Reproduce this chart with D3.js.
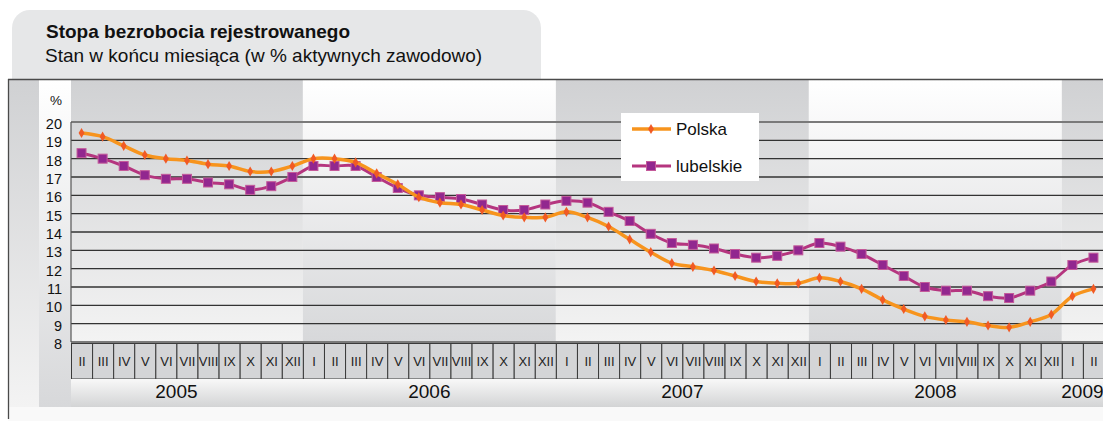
<!DOCTYPE html>
<html><head><meta charset="utf-8">
<script src="https://cdn.jsdelivr.net/npm/d3@7"></script>
<style>
html,body{margin:0;padding:0;background:#ffffff;}
svg{display:block;font-family:"Liberation Sans",Arial,sans-serif;}
</style></head>
<body>
<svg id="c" width="1103" height="421"></svg>
<script>
// ---- data ----
const titleText = "Stopa bezrobocia rejestrowanego";
const subtitleText = "Stan w końcu miesiąca (w % aktywnych zawodowo)";
const unitLabel = "%";
const yearLabels = ["2005","2006","2007","2008","2009"];
const monthLabels = [
  "II","III","IV","V","VI","VII","VIII","IX","X","XI","XII",
  "I","II","III","IV","V","VI","VII","VIII","IX","X","XI","XII",
  "I","II","III","IV","V","VI","VII","VIII","IX","X","XI","XII",
  "I","II","III","IV","V","VI","VII","VIII","IX","X","XI","XII",
  "I","II"];
const polska = [
  19.4,19.2,18.7,18.2,18.0,17.9,17.7,17.6,17.3,17.3,17.6,
  18.0,18.0,17.8,17.2,16.6,15.9,15.6,15.5,15.2,14.9,14.8,14.8,
  15.1,14.8,14.3,13.6,12.9,12.3,12.1,11.9,11.6,11.3,11.2,11.2,
  11.5,11.3,10.9,10.3,9.8,9.4,9.2,9.1,8.9,8.8,9.1,9.5,
  10.5,10.9];
const lubelskie = [
  18.3,18.0,17.6,17.1,16.9,16.9,16.7,16.6,16.3,16.5,17.0,
  17.6,17.6,17.6,17.0,16.4,16.0,15.9,15.8,15.5,15.2,15.2,15.5,
  15.7,15.6,15.1,14.6,13.9,13.4,13.3,13.1,12.8,12.6,12.7,13.0,
  13.4,13.2,12.8,12.2,11.6,11.0,10.8,10.8,10.5,10.4,10.8,11.3,
  12.2,12.6];
const yTicks = [8,9,10,11,12,13,14,15,16,17,18,19,20];
const seriesNames = ["Polska","lubelskie"];

// ---- layout ----
const svg = d3.select("#c");
const W = 1103, H = 421;
const plotL = 71, plotR = 1104, plotT = 122, plotB = 342;
const frameT = 79, frameL = 8;
const monthT = 343.5, monthB = 379, yearB = 407;

const idx = d3.range(monthLabels.length);
const x = d3.scaleBand().domain(idx).range([plotL, plotR]).padding(0);
const bw = x.bandwidth();
const y = d3.scaleLinear().domain([8,20]).range([plotB, plotT]);
const yearOf = i => 2005 + Math.floor((i + 1) / 12);

const defs = svg.append("defs");
function grad(id, c1, c2){
  const g = defs.append("linearGradient").attr("id", id).attr("x1",0).attr("y1",0).attr("x2",0).attr("y2",1);
  g.append("stop").attr("offset","0%").attr("stop-color",c1);
  g.append("stop").attr("offset","100%").attr("stop-color",c2);
}
grad("darkTop", "#d0d1d3", "#f3f3f3");
grad("lightTop", "#ffffff", "#d7d8da");
grad("rowGrad", "#f8f8f8", "#d3d4d5");

// title box
svg.append("rect").attr("x",12).attr("y",10).attr("width",529).attr("height",100)
  .attr("rx",18).attr("fill","#e6e7e8");
svg.append("text").attr("x",46).attr("y",38).attr("font-size",19).attr("font-weight","bold")
  .attr("fill","#111").text(titleText);
svg.append("text").attr("x",45).attr("y",62).attr("font-size",19)
  .attr("fill","#111").text(subtitleText);

// frame background
svg.append("rect").attr("x",frameL).attr("y",frameT).attr("width",W-frameL).attr("height",H-frameT).attr("fill","#f9f9f9");
// left columns
svg.append("rect").attr("x",frameL).attr("y",frameT).attr("width",39-frameL).attr("height",yearB-frameT).attr("fill","url(#darkTop)");
svg.append("rect").attr("x",39).attr("y",frameT).attr("width",plotL-39).attr("height",yearB-frameT).attr("fill","url(#lightTop)");

// year bands
const bandData = yearLabels.map((yl, k) => {
  const ids = idx.filter(i => yearOf(i) === +yl);
  const x0 = x(ids[0]), x1 = x(ids[ids.length-1]) + bw;
  return {yl, k, x0, x1, ids};
});
svg.append("g").selectAll("rect").data(bandData).join("rect")
  .attr("x", d => d.x0).attr("y", frameT).attr("width", d => d.x1 - d.x0).attr("height", plotB - frameT)
  .attr("fill", d => d.k % 2 === 0 ? "url(#darkTop)" : "url(#lightTop)");

// gridlines
svg.append("g").selectAll("line").data(yTicks).join("line")
  .attr("x1", plotL).attr("x2", W).attr("y1", d => y(d)).attr("y2", d => y(d))
  .attr("stroke", d => (d === 20 || d === 8) ? "#7a7a7a" : "#333")
  .attr("stroke-width", d => (d === 20 || d === 8) ? 2 : 1.4);
svg.append("line").attr("x1",plotL).attr("x2",plotL).attr("y1",y(20)).attr("y2",y(8))
  .attr("stroke","#555").attr("stroke-width",1.2);

// y axis labels
const yAxis = d3.axisLeft(y).tickValues(yTicks).tickSize(0).tickPadding(9).tickFormat(d3.format("d"));
const ya = svg.append("g").attr("transform",`translate(${plotL},0)`).call(yAxis);
ya.select(".domain").remove();
ya.selectAll("text").attr("font-size",14.5).attr("fill","#111").attr("font-family","Liberation Sans, Arial, sans-serif").attr("dy","0.45em");
svg.append("text").attr("x",56).attr("y",105).attr("text-anchor","middle").attr("font-size",13.5).attr("fill","#111").text(unitLabel);

// month row
const mg = svg.append("g");
mg.selectAll("rect").data(idx).join("rect")
  .attr("x", i => x(i) + 0.5).attr("y", monthT).attr("width", bw).attr("height", monthB - monthT)
  .attr("fill", "#d4d5d7").attr("stroke", "#3a3a3a").attr("stroke-width", 1);
mg.selectAll("text").data(idx).join("text")
  .attr("x", i => x(i) + bw/2 + 0.5).attr("y", (monthT + monthB)/2 + 5)
  .attr("text-anchor","middle").attr("font-size",13).attr("fill","#222")
  .text(i => monthLabels[i]);

// year row
svg.append("rect").attr("x",plotL).attr("y",monthB).attr("width",W-plotL).attr("height",yearB-monthB).attr("fill","url(#rowGrad)");
svg.append("g").selectAll("text").data(bandData).join("text")
  .attr("x", d => {
    const full = plotL + ((+d.yl - 2005) * 12 - 1 + 6) * bw;
    return full <= plotR ? full : (d.x0 + Math.min(d.x1, W)) / 2;
  })
  .attr("y", 398).attr("text-anchor","middle").attr("font-size",19).attr("fill","#111")
  .text(d => d.yl);

// frame lines
svg.append("line").attr("x1",frameL).attr("x2",W).attr("y1",frameT+0.5).attr("y2",frameT+0.5).attr("stroke","#4a4a4a").attr("stroke-width",1.6);
svg.append("line").attr("x1",frameL+0.5).attr("x2",frameL+0.5).attr("y1",frameT).attr("y2",419).attr("stroke","#4a4a4a").attr("stroke-width",1.3);

// series
const cx = i => x(i) + bw/2;
const lineGen = vals => d3.line().x((d,i) => cx(i)).y(d => y(d)).curve(d3.curveCatmullRom.alpha(0.5))(vals);
const colPol = "#f7941d", colPolMk = "#f15a24";
const colLub = "#b5357f", colLubMk = "#92278f";

svg.append("path").attr("d", lineGen(lubelskie)).attr("fill","none").attr("stroke",colLub).attr("stroke-width",3);
svg.append("g").selectAll("rect").data(lubelskie).join("rect")
  .attr("x",(d,i)=>cx(i)-4.5).attr("y",d=>y(d)-4.5).attr("width",9).attr("height",9)
  .attr("fill",colLubMk).attr("stroke","#c45a9a").attr("stroke-width",1);

svg.append("path").attr("d", lineGen(polska)).attr("fill","none").attr("stroke",colPol).attr("stroke-width",3.5);
const diamond = d3.symbol().type(d3.symbolDiamond).size(30);
svg.append("g").selectAll("path").data(polska).join("path")
  .attr("transform",(d,i)=>`translate(${cx(i)},${y(d)})`).attr("d",diamond).attr("fill",colPolMk);

// legend
const lg = svg.append("g");
lg.append("rect").attr("x",621).attr("y",113).attr("width",138).attr("height",68).attr("fill","#ffffff");
const legY = [129, 166];
lg.append("line").attr("x1",632).attr("x2",671).attr("y1",legY[0]).attr("y2",legY[0]).attr("stroke",colPol).attr("stroke-width",3.5);
lg.append("path").attr("transform",`translate(651,${legY[0]})`).attr("d",diamond).attr("fill",colPolMk);
lg.append("line").attr("x1",632).attr("x2",671).attr("y1",legY[1]).attr("y2",legY[1]).attr("stroke",colLub).attr("stroke-width",3);
lg.append("rect").attr("x",651-4.5).attr("y",legY[1]-4.5).attr("width",9).attr("height",9).attr("fill",colLubMk).attr("stroke","#c45a9a");
lg.selectAll("text").data(seriesNames).join("text")
  .attr("x",676).attr("y",(d,i)=>legY[i]+6).attr("font-size",17).attr("fill","#111").text(d=>d);
</script>
</body></html>
